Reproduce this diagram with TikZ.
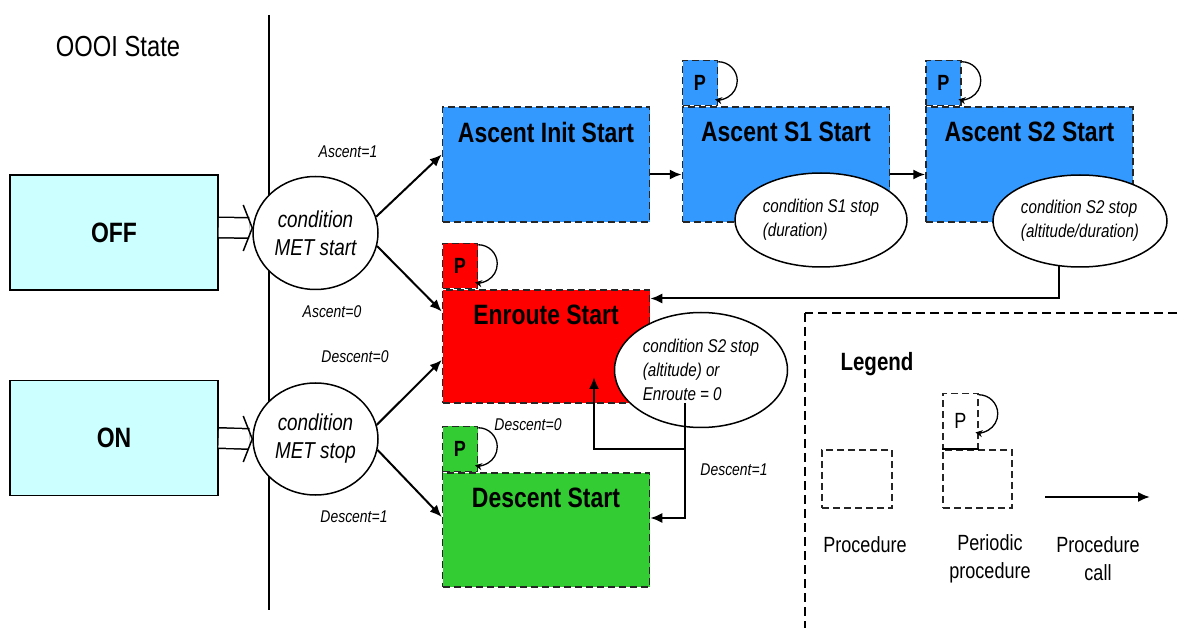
\documentclass[tikz,border=0pt]{standalone}
\usepackage{fontspec}
\setmainfont{Liberation Sans}[FakeStretch=0.82]
\usepackage{tikz}
\usetikzlibrary{arrows.meta,shapes.geometric}
\definecolor{ascblue}{HTML}{3399FF}
\definecolor{enred}{HTML}{FF0000}
\definecolor{desgreen}{HTML}{33CC33}
\definecolor{statecyan}{HTML}{CCFFFF}
\newcommand{\fsz}[2]{\fontsize{#1}{#2}\selectfont}
\newcommand{\ploop}[1]{\draw[loopy] ([yshift=-2pt]#1.north east) arc[start angle=90,end angle=-100,radius=19pt];}

\begin{document}
\begin{tikzpicture}[x=1pt,y=1pt,
    state/.style={draw, line width=1.5pt, fill=statecyan, minimum width=208pt, minimum height=115pt, font=\bfseries\fsz{28}{32}},
    cond/.style={ellipse, draw, line width=1.5pt, fill=white, inner sep=0pt, align=left, font=\itshape\fsz{18.5}{24}},
    proc/.style={draw=black!85, line width=1.5pt, dash pattern=on 7pt off 4pt, minimum width=207pt, minimum height=115pt},
    tab/.style={proc, minimum width=35pt, minimum height=45pt, anchor=south west, inner sep=0pt, font=\bfseries\fsz{22}{24}},
    title/.style={anchor=north, yshift=-12pt, font=\bfseries\fsz{28}{32}},
    lbl/.style={font=\itshape\fsz{17}{20}},
    call/.style={line width=2pt, -{Latex[length=12pt,width=10pt]}},
    dbl/.style={double, double distance=19pt, line width=1.5pt},
    chev/.style={line width=1.5pt, line join=miter},
    loopy/.style={line width=1.3pt, -{Stealth[length=7pt,width=7pt]}},
    legtxt/.style={align=center, font=\fsz{22}{28}}]
  \useasboundingbox (0,0) rectangle (1179,-628);

  % divider and legend frame
  \coordinate (divtop) at (269,-15);
  \coordinate (divbot) at (269,-610);
  \draw[line width=1.5pt] (divtop) -- (divbot);
  \draw[line width=1.5pt, dash pattern=on 9pt off 5pt] (805,-313) rectangle (1200,-650);

  \node[font=\fsz{29}{32}] (oooi) at (118,-47) {OOOI State};

  % states
  \node[state] (off) at (114,-232.5) {OFF};
  \node[state] (on) at (114,-438) {ON};
  \node[cond, align=center, minimum width=125pt, minimum height=113pt, font=\itshape\fsz{23}{28}] (metstart) at (315.5,-233) {condition\\MET start};
  \node[cond, align=center, minimum width=125pt, minimum height=112pt, font=\itshape\fsz{23}{28}] (metstop) at (315.5,-439) {condition\\MET stop};

  % procedures
  \node[proc, fill=ascblue, label={[title]north:Ascent Init Start}] (ascinit) at (546,-164.5) {};
  \node[proc, fill=ascblue, label={[title]north:Ascent S1 Start}] (s1) at (786,-164.5) {};
  \node[tab, fill=ascblue] (s1tab) at (s1.north west) {P};
  \ploop{s1tab}
  \node[proc, fill=ascblue, label={[title]north:Ascent S2 Start}] (s2) at (1029.5,-164.5) {};
  \node[tab, fill=ascblue] (s2tab) at (s2.north west) {P};
  \ploop{s2tab}
  \node[proc, fill=enred, minimum height=113pt, label={[title]north:Enroute Start}] (enroute) at (546,-346.5) {};
  \node[tab, fill=enred] (entab) at (enroute.north west) {P};
  \ploop{entab}
  \node[proc, fill=desgreen, minimum height=114pt, label={[title]north:Descent Start}] (descent) at (546,-530) {};
  \node[tab, fill=desgreen] (destab) at (descent.north west) {P};
  \ploop{destab}

  % stop conditions
  \node[cond, minimum width=172pt, minimum height=94pt] (s1stop) at (821,-220) {condition S1 stop\\(duration)};
  \node[cond, minimum width=174pt, minimum height=92pt] (s2stop) at (1080,-221) {condition S2 stop\\(altitude/duration)};
  \node[cond, minimum width=173pt, minimum height=115pt] (enstop) at (701,-370) {condition S2 stop\\(altitude) or\\Enroute = 0};

  % state inputs
  \draw[dbl] ([yshift=5pt]off.east) -- ([xshift=-3pt,yshift=5pt]metstart.west);
  \draw[chev] ([xshift=-9pt,yshift=28pt]metstart.west) -- ([yshift=5pt]metstart.west) -- ([xshift=-9pt,yshift=-18pt]metstart.west);
  \draw[dbl] (on.east) -- ([xshift=-3pt]metstop.west);
  \draw[chev] ([xshift=-9pt,yshift=23pt]metstop.west) -- (metstop.west) -- ([xshift=-9pt,yshift=-23pt]metstop.west);

  % calls
  \draw[call] (metstart.15) -- ([yshift=10pt]ascinit.west);
  \draw[call] (metstart.-12) -- ([yshift=35pt]enroute.west);
  \draw[call] (metstop.13) -- ([yshift=-13.5pt]enroute.west);
  \draw[call] (metstop.-10) -- ([yshift=13pt]descent.west);
  \draw[call] ([yshift=-10pt]ascinit.east) -- ([yshift=-10pt]s1.west);
  \draw[call] ([yshift=-10pt]s1.east) -- ([yshift=-10pt]s2.west);
  \draw[call] (s2stop.-115) |- ([yshift=48pt]enroute.east);
  \coordinate (split) at (685,-449);
  \draw[line width=2pt] ([xshift=-16pt,yshift=-33pt]enstop.center) -- (split);
  \draw[call] (split) -| ([xshift=48pt,yshift=-30.5pt]enroute.center);
  \draw[call] (split) |- ([yshift=12pt]descent.east);

  \node[lbl] at (348,-152) {Ascent=1};
  \node[lbl] at (332,-312) {Ascent=0};
  \node[lbl] at (355,-357) {Descent=0};
  \node[lbl] at (354,-517) {Descent=1};
  \node[lbl] at (528,-425) {Descent=0};
  \node[lbl] at (734,-470) {Descent=1};

  % legend
  \node[font=\bfseries\fsz{25}{28}] (legend) at (877,-364) {Legend};
  \node[proc, fill=none, minimum width=70pt, minimum height=58pt] (legproc) at (857,-479) {};
  \node[proc, fill=none, minimum width=69pt, minimum height=58pt] (legper) at (977.5,-479) {};
  \node[tab, fill=white, minimum height=55pt, font=\fsz{22}{24}] (legtab) at (legper.north west) {P};
  \draw[line width=1.5pt] (legtab.south west) -- (legtab.south east);
  \ploop{legtab}
  \coordinate (callstart) at (1045,-497);
  \coordinate (callend) at (1150,-497);
  \draw[call] (callstart) -- (callend);
  \node[legtxt] at (865,-545) {Procedure};
  \node[legtxt] at (990,-559) {Periodic\\procedure};
  \node[legtxt] at (1098,-559) {Procedure\\call};
\end{tikzpicture}
\end{document}
